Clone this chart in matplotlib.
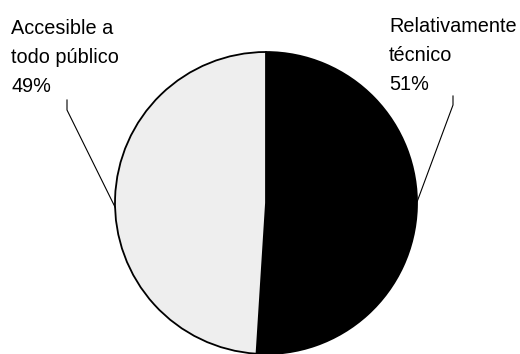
import matplotlib.pyplot as plt

# Chart data
categories = ['Relativamente\ntécnico', 'Accesible a\ntodo público']
percentages = [51, 49]
slice_colors = ['#000000', '#eeeeee']

W, H = 520, 354


def main():
    fig = plt.figure(figsize=(W / 100, H / 100), dpi=100)
    ax = fig.add_axes([0, 0, 1, 1])

    # Pie, centre and radius in pixel units (y measured from bottom)
    cx, cy, r = 266, H - 203, 151
    ax.pie(percentages, colors=slice_colors, startangle=90, counterclock=False,
           center=(cx, cy), radius=r, frame=True,
           wedgeprops=dict(edgecolor='black', linewidth=1.3))
    ax.set_xlim(0, W)
    ax.set_ylim(0, H)
    ax.set_aspect('equal')
    ax.axis('off')

    font = dict(family='Liberation Sans', fontsize=14.3, va='top', ha='left',
                linespacing=1.65)

    # Right label (black slice)
    ax.text(389, H - 17, f"{categories[0]}\n{percentages[0]}%", **font)
    ax.plot([453, 453, 417], [H - 96, H - 105, H - 202], color='black', lw=0.8)

    # Left label (light slice)
    ax.text(11, H - 19, f"{categories[1]}\n{percentages[1]}%", **font)
    ax.plot([67, 67, 115], [H - 100, H - 110, H - 207], color='black', lw=0.8)

    fig.savefig('out.png', dpi=100)


if __name__ == "__main__":
    main()
